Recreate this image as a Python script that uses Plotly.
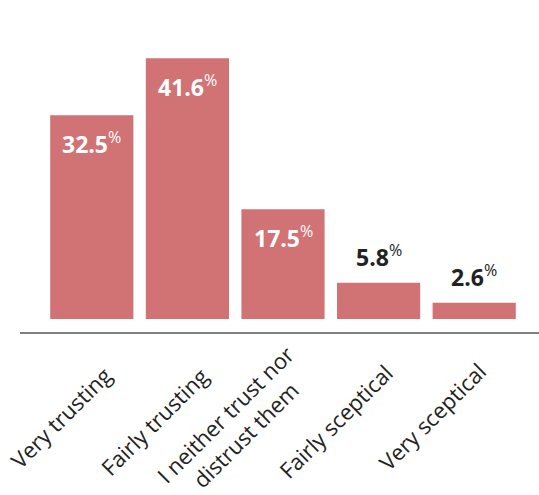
import plotly.graph_objects as go

categories = ["Very trusting", "Fairly trusting", "I neither trust nor<br>distrust them",
              "Fairly sceptical", "Very sceptical"]
values = [32.5, 41.6, 17.5, 5.8, 2.6]
inside = [True, True, True, False, False]

# label placement offsets (px) for the rotated category labels
label_dx = [-31, -33, -48, -43, -42]
label_dy = [-98, -102, -105, -102, -97]

BAR = "#D17274"
DARK = "#222222"
FONT = "Open Sans, Noto Sans, sans-serif"

fig = go.Figure(go.Bar(
    x=categories, y=values, marker_color=BAR, marker_line_width=0,
    hoverinfo="skip",
))

annotations = []
for cat, v, ins in zip(categories, values, inside):
    annotations.append(dict(
        x=cat, y=v, xref="x", yref="y",
        text=f"<b>{v:.1f}</b><sup>%</sup>",
        showarrow=False,
        yanchor="top" if ins else "bottom",
        yshift=-9 if ins else 8,
        font=dict(family=FONT, size=23, color="white" if ins else DARK),
    ))
for cat, dx, dy in zip(categories, label_dx, label_dy):
    annotations.append(dict(
        x=cat, y=0, xref="x", yref="y",
        text=cat, showarrow=False, textangle=-45,
        xanchor="center", yanchor="middle", align="center",
        xshift=dx, yshift=dy,
        font=dict(family=FONT, size=22, color=DARK),
    ))

fig.update_layout(
    width=539, height=495,
    margin=dict(l=44, r=17, t=37, b=176),
    paper_bgcolor="white", plot_bgcolor="white",
    bargap=0.13,
    showlegend=False,
    xaxis=dict(range=[-0.5, len(categories) - 0.5], showticklabels=False,
               showline=False, showgrid=False, zeroline=False, ticks=""),
    yaxis=dict(range=[0, 45], visible=False, showgrid=False, zeroline=False),
    annotations=annotations,
    shapes=[dict(type="line", xref="paper", yref="paper",
                 x0=-0.0502, x1=1.04, y0=-0.0496, y1=-0.0496,
                 line=dict(color="#555555", width=1.5))],
)

fig.write_html("out.html")
